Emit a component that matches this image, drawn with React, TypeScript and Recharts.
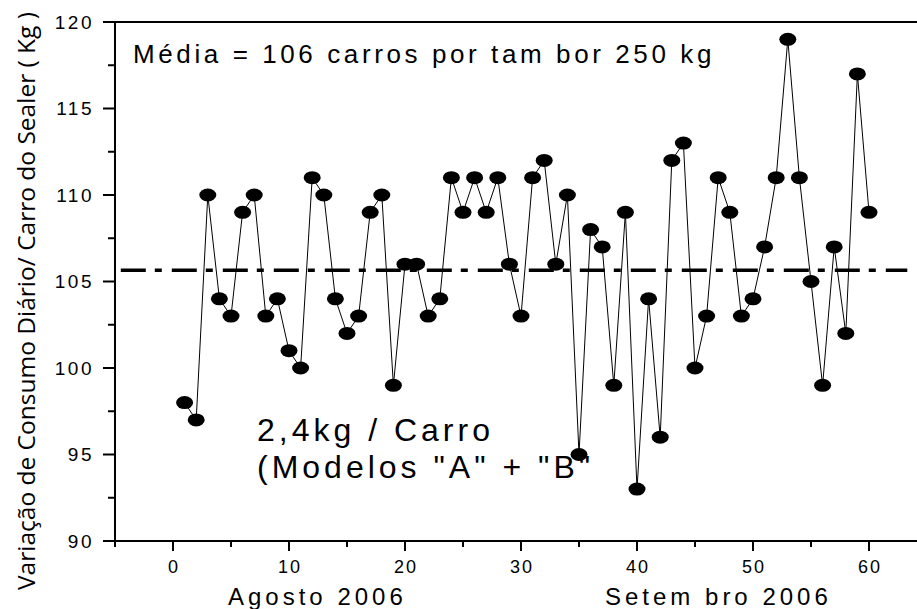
import { LineChart, Line, XAxis, YAxis, ReferenceLine } from "recharts"

// Dias (eixo x) e consumo diário por carro (kg)
const dias = [
  1, 2, 3, 4, 5, 6, 7, 8, 9, 10, 11, 12, 13, 14, 15, 16, 17, 18, 19, 20,
  21, 22, 23, 24, 25, 26, 27, 28, 29, 30, 31, 32, 33, 34, 35, 36, 37, 38, 39, 40,
  41, 42, 43, 44, 45, 46, 47, 48, 49, 50, 51, 52, 53, 54, 55, 56, 57, 58, 59, 60,
]
const consumo = [
  98, 97, 110, 104, 103, 109, 110, 103, 104, 101, 100, 111, 110, 104, 102, 103, 109, 110, 99, 106,
  106, 103, 104, 111, 109, 111, 109, 111, 106, 103, 111, 112, 106, 110, 95, 108, 107, 99, 109, 93,
  104, 96, 112, 113, 100, 103, 111, 109, 103, 104, 107, 111, 119, 111, 105, 99, 107, 102, 117, 109,
]

// linha da média (traço-ponto)
const media = 105.65
const mediaInicio = -4.5
const mediaFim = 63.3

const xTicks = [-5, 0, 5, 10, 15, 20, 25, 30, 35, 40, 45, 50, 55, 60, 65]
const xMajor = [0, 10, 20, 30, 40, 50, 60]
const yTicks = [90, 92.5, 95, 97.5, 100, 102.5, 105, 107.5, 110, 112.5, 115, 117.5, 120]
const yMajor = [90, 95, 100, 105, 110, 115, 120]

const data = dias.map((d, i) => ({ dia: d, valor: consumo[i] }))
const mediaData = [
  { dia: mediaInicio, media },
  { dia: mediaFim, media },
]

const ARIAL = "'Liberation Sans', Arial, sans-serif"

const Elipse = (props: any) => {
  const { cx, cy } = props
  if (cx == null || cy == null) return null
  return <ellipse cx={cx} cy={cy} rx={8.5} ry={6.5} fill="#000" />
}

const XTick = (props: any) => {
  const { x, y, payload } = props
  const major = xMajor.includes(payload.value)
  return (
    <g>
      <line x1={x} x2={x} y1={y} y2={y + (major ? 10 : 6)} stroke="#000" strokeWidth={2} />
      {major && (
        <text x={x + 1} y={y + 32} textAnchor="middle" fontFamily={ARIAL} fontSize={18} letterSpacing={2} fill="#000">
          {payload.value}
        </text>
      )}
    </g>
  )
}

const YTick = (props: any) => {
  const { x, y, payload } = props
  const major = yMajor.includes(payload.value)
  return (
    <g>
      <line x1={x - (major ? 12 : 7)} x2={x} y1={y} y2={y} stroke="#000" strokeWidth={2} />
      {major && (
        <text x={x - 21} y={y} dy="0.36em" textAnchor="end" fontFamily={ARIAL} fontSize={19} letterSpacing={2.5} fill="#000">
          {payload.value}
        </text>
      )}
    </g>
  )
}

export default function App() {
  return (
    <div style={{ position: "fixed", left: 0, top: 0, width: 917, height: 609, overflow: "hidden", background: "#fff" }}>
      <LineChart width={940} height={609} data={data} margin={{ top: 22, right: 13, bottom: 0, left: 0 }}>
        <XAxis
          type="number"
          dataKey="dia"
          domain={[-5, 65]}
          ticks={xTicks}
          interval={0}
          height={68}
          tickSize={0}
          tickMargin={0}
          tickLine={false}
          axisLine={{ stroke: "#000", strokeWidth: 2 }}
          tick={<XTick />}
        />
        <YAxis
          type="number"
          domain={[90, 120]}
          ticks={yTicks}
          interval={0}
          width={115}
          tickSize={0}
          tickMargin={0}
          tickLine={false}
          axisLine={{ stroke: "#000", strokeWidth: 2 }}
          tick={<YTick />}
        />
        <ReferenceLine y={120} stroke="#000" strokeWidth={2} />
        <Line
          data={mediaData}
          dataKey="media"
          stroke="#000"
          strokeWidth={3.5}
          strokeDasharray="25 9 7 10"
          dot={false}
          activeDot={false}
          isAnimationActive={false}
        />
        <Line
          dataKey="valor"
          stroke="#000"
          strokeWidth={1}
          dot={<Elipse />}
          activeDot={false}
          isAnimationActive={false}
        />
        <text x={133} y={63} fontFamily={ARIAL} fontSize={26} letterSpacing={3.6} fill="#000">
          Média = 106 carros por tam bor 250 kg
        </text>
        <text x={257} y={441} fontFamily={ARIAL} fontSize={32} letterSpacing={4} fill="#000">
          2,4kg / Carro
        </text>
        <text x={257} y={478} fontFamily={ARIAL} fontSize={32} letterSpacing={4} fill="#000">
          (Modelos "A" + "B"
        </text>
        <text x={228} y={605} fontFamily={ARIAL} fontSize={24} letterSpacing={4} fill="#000">
          Agosto 2006
        </text>
        <text x={605} y={605} fontFamily={ARIAL} fontSize={24} letterSpacing={4} fill="#000">
          Setem bro 2006
        </text>
        <text
          transform="translate(35,301) rotate(-90)"
          textAnchor="middle"
          fontFamily="'Open Sans', 'Noto Sans', sans-serif"
          fontSize={24.5}
          fill="#000"
        >
          Variação de Consumo Diário/ Carro do Sealer ( Kg )
        </text>
      </LineChart>
    </div>
  )
}
